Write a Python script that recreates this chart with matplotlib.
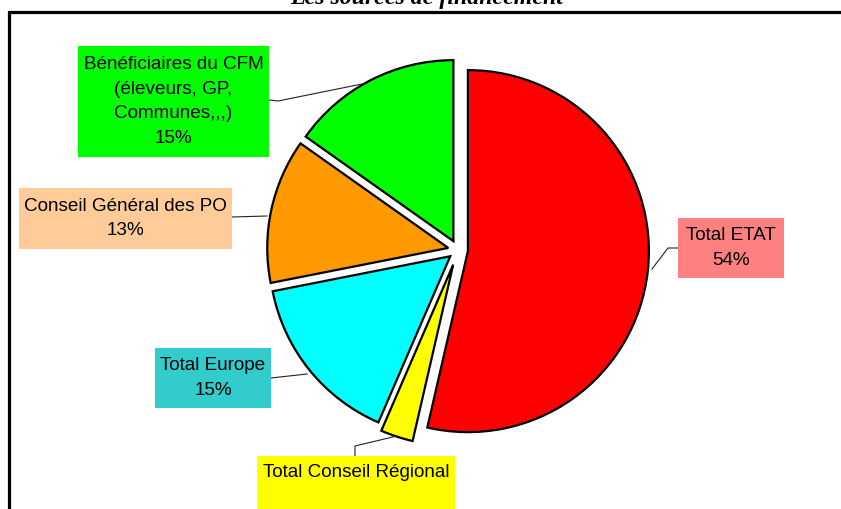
import matplotlib
matplotlib.use('Agg')
import matplotlib.pyplot as plt
from matplotlib.patches import Rectangle

W, H = 841, 510

# slice order: clockwise from 12 o'clock
sources = ['Total ETAT', 'Total Conseil Régional', 'Total Europe',
           'Conseil Général des PO',
           'Bénéficiaires du CFM\n(éleveurs, GP,\nCommunes,,,)']
shares = [53.6, 2.9, 15.4, 12.9, 15.2]
slice_colors = ['#FF0000', '#FFFF00', '#00FFFF', '#FF9900', '#00FF00']
box_colors = ['#FF8080', '#FFFF00', '#33CCCC', '#FFCC99', '#00FF00']
explode = [0.055, 0.085, 0.055, 0.055, 0.055]

# label boxes in pixels (left, top, right, bottom) and leader lines
boxes = [(678, 219, 784, 279), (257, 457, 455, 530), (155, 349, 271, 409),
         (19, 189, 232, 250), (78, 47, 269, 158)]
leaders = [[(678, 249), (668, 249), (652, 270)],
           [(355, 457), (355, 447), (397, 437)],
           [(271, 379), (307, 375)],
           [(232, 218), (267, 217)],
           [(269, 101), (278, 102), (367, 84)]]

plt.rcParams['font.family'] = ['Liberation Sans', 'DejaVu Sans']

fig = plt.figure(figsize=(W / 100, H / 100), dpi=100)
ax = fig.add_axes([0, 0, 1, 1])

R = 181
# pie offsets are in data units, so scale by the radius
ax.pie(shares, colors=slice_colors, explode=[e * R for e in explode],
       startangle=90, counterclock=False, center=(458, H - 251), radius=R,
       wedgeprops=dict(edgecolor='black', linewidth=1.6))

for name, share, col, (l, t, r, b), pts in zip(sources, shares, box_colors,
                                               boxes, leaders):
    ax.plot([p[0] for p in pts], [H - p[1] for p in pts], color='#222222',
            lw=0.8, zorder=3)
    ax.add_patch(Rectangle((l, H - b), r - l, b - t, facecolor=col,
                           edgecolor='none', zorder=4))
    if name == 'Total Conseil Régional':
        # percentage line falls outside the picture
        ax.text((l + r) / 2, H - 473, name, ha='center', va='center',
                fontsize=13.6, zorder=5)
    else:
        ax.text((l + r) / 2, H - (t + b) / 2 + 1, f'{name}\n{round(share)}%',
                ha='center', va='center', multialignment='center',
                fontsize=13.6, linespacing=1.6, zorder=5)

# outer frame, only top and left edges inside the picture
ax.add_patch(Rectangle((9, -20), 900, H - 12.5 + 20, fill=False,
                       edgecolor='black', lw=2.3, zorder=6))

ax.text(427, H - 4, 'Les sources de financement', ha='center',
        va='baseline', fontsize=17.2, fontweight='bold', fontstyle='italic',
        family=['Liberation Serif', 'DejaVu Serif'])

ax.set_xlim(0, W)
ax.set_ylim(0, H)
ax.set_aspect('auto')
ax.axis('off')

fig.savefig('out.png', dpi=100)
